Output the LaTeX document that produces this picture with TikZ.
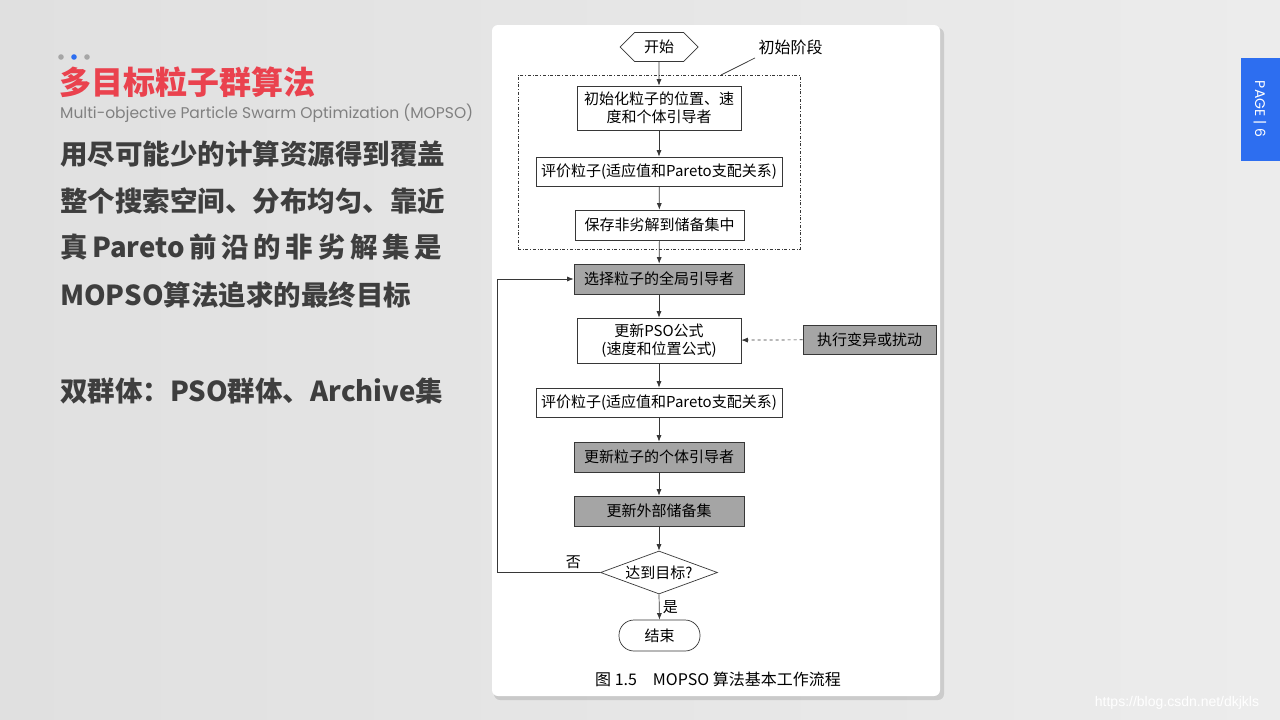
\documentclass[tikz,border=0pt]{standalone}
\usepackage{fontspec}
\setmainfont{Liberation Sans}
\newfontfamily\cjk{Noto Sans CJK SC}
\newfontfamily\thinlatin{Poppins}
\usetikzlibrary{positioning, arrows.meta, shapes.geometric, shapes.symbols}
\definecolor{slidebg}{RGB}{224,224,224}
\definecolor{slidebgr}{RGB}{236,236,236}
\definecolor{titlered}{RGB}{234,66,78}
\definecolor{bodygray}{RGB}{62,62,62}
\definecolor{subgray}{RGB}{128,128,128}
\definecolor{tabblue}{RGB}{45,110,240}
\definecolor{boxgray}{RGB}{165,165,165}
\definecolor{flowline}{RGB}{55,55,55}

\begin{document}
\begin{tikzpicture}[x=1pt, y=-1pt,
    flowbox/.style={draw=flowline, line width=0.7pt, fill=white, align=center,
      inner sep=2pt, font=\cjk\fontsize{15}{18}\selectfont},
    darkbox/.style={flowbox, fill=boxgray},
    flowarrow/.style={-{Latex[length=6.5pt,width=5pt]}, draw=flowline, line width=0.7pt},
    bodyline/.style={anchor=west, inner sep=0pt, text=bodygray,
      font=\cjk\bfseries\fontsize{27.5}{27.5}\selectfont}]
  \useasboundingbox (0,0) rectangle (1280,720);
  \shade[left color=slidebg, right color=slidebgr] (0,0) rectangle (1280,720);

  % slide heading
  \fill[gray!70] (61,57) circle (2.8);
  \fill[tabblue] (74,57) circle (2.8);
  \fill[gray!70] (87,57) circle (2.8);
  \node[anchor=west, inner sep=0pt, text=titlered,
    font=\cjk\bfseries\fontsize{32}{32}\selectfont] (title) at (59,82) {多目标粒子群算法};
  \node[anchor=west, inner sep=0pt, text=subgray, font=\thinlatin] (subtitle) at (60,113)
    {\resizebox{413pt}{!}{Multi-objective Particle Swarm Optimization (MOPSO)}};

  % slide body
  \node[bodyline] (line1) at (60,154) {用尽可能少的计算资源得到覆盖};
  \node[bodyline] (line2) at (60,201) {整个搜索空间、分布均匀、靠近};
  \node[bodyline] (line3) at (60,247) {\makebox[382pt][s]{真 Pareto 前 沿 的 非 劣 解 集 是}};
  \node[bodyline] (line4) at (60,295) {MOPSO算法追求的最终目标};
  \node[bodyline] (line5) at (60,391) {双群体：PSO群体、Archive集};

  % figure panel
  \fill[black, opacity=0.12, rounded corners=6] (494,28) rectangle (944,700);
  \fill[white, rounded corners=6] (492,25) rectangle (940,696);

  \node[draw=flowline, dash dot, line width=0.7pt, minimum width=282, minimum height=174,
    inner sep=0pt] (initstage) at (659,162) {};
  \node[flowbox, signal, signal to=west and east, minimum width=78, minimum height=29,
    inner sep=1pt] (start) at (659,47) {开始};
  \node[anchor=west, font=\cjk\fontsize{16}{16}\selectfont] (stagelbl) at (755,47) {初始阶段};
  \coordinate (leadfoot) at (721,75);
  \draw[flowline, line width=0.7pt] (leadfoot) -- (stagelbl.south west);

  \node[flowbox, minimum width=164, minimum height=44] (initpos) at (659,108)
    {初始化粒子的位置、速\\度和个体引导者};
  \node[flowbox, minimum width=246, minimum height=29] (eval1) at (659,171.5)
    {评价粒子(适应值和Pareto支配关系)};
  \node[flowbox, minimum width=169, minimum height=30] (save) at (659.5,225)
    {保存非劣解到储备集中};
  \node[darkbox, minimum width=170, minimum height=30] (gbest) at (659,279)
    {选择粒子的全局引导者};
  \node[flowbox, minimum width=164, minimum height=45] (update) at (659,340.5)
    {更新PSO公式\\(速度和位置公式)};
  \node[darkbox, minimum width=133, minimum height=29] (mutate) at (869.5,339.5)
    {执行变异或扰动};
  \node[flowbox, minimum width=246, minimum height=29] (eval2) at (659,402.5)
    {评价粒子(适应值和Pareto支配关系)};
  \node[darkbox, minimum width=170, minimum height=30] (pbest) at (659,457)
    {更新粒子的个体引导者};
  \node[darkbox, minimum width=170, minimum height=30] (archive) at (659,511)
    {更新外部储备集};
  \node[flowbox, diamond, aspect=2.7, inner sep=0pt, minimum width=117,
    minimum height=43] (goal) at (659,572.5) {达到目标?};
  \node[flowbox, rounded corners=15, minimum width=81, minimum height=31] (stop)
    at (659.5,635.5) {结束};

  \draw[flowarrow] (start) -- (initpos);
  \draw[flowarrow] (initpos) -- (eval1);
  \draw[flowarrow] (eval1) -- (save);
  \draw[flowarrow] (save) -- (gbest);
  \draw[flowarrow] (gbest) -- (update);
  \draw[flowarrow] (update) -- (eval2);
  \draw[flowarrow] (eval2) -- (pbest);
  \draw[flowarrow] (pbest) -- (archive);
  \draw[flowarrow] (archive) -- (goal);
  \draw[flowarrow, dashed] (mutate) -- (update);
  \draw[flowarrow] (goal.south) -- node[right, font=\cjk\fontsize{15}{15}\selectfont]{是} (stop.north);
  \draw[flowarrow] (goal.west) -- node[above, pos=0.26, font=\cjk\fontsize{15}{15}\selectfont]{否}
    ++(-103,0) |- (gbest.west);

  \node[font=\cjk\fontsize{16}{16}\selectfont] (caption) at (718,679)
    {图 1.5\quad MOPSO 算法基本工作流程};

  % page tab and watermark
  \fill[tabblue] (1241,58) rectangle (1280,161);
  \node[rotate=-90, text=white, font=\thinlatin\fontsize{14}{14}\selectfont] (pagetag)
    at (1260,109) {PAGE | 6};
  \node[text=white, font=\fontsize{14}{14}\selectfont] (watermark) at (1177,703)
    {https://blog.csdn.net/dkjkls};
\end{tikzpicture}
\end{document}
